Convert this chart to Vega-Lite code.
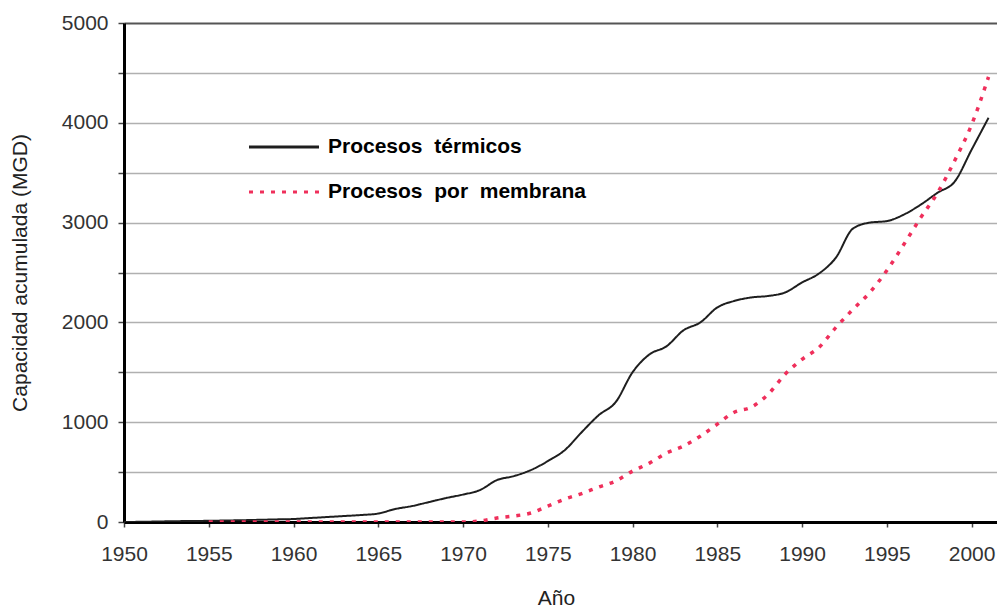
{
  "$schema": "https://vega.github.io/schema/vega-lite/v6.json",
  "width": 873,
  "height": 499,
  "autosize": {"type": "none"},
  "padding": {"left": 124, "top": 23, "right": 0, "bottom": 90},
  "background": "white",
  "config": {"view": {"stroke": null}, "font": "Liberation Sans"},
  "datasets": {
    "termicos": [
      {"anio":1950,"v":0},{"anio":1951,"v":2},{"anio":1952,"v":5},{"anio":1953,"v":8},{"anio":1954,"v":10},
      {"anio":1955,"v":12},{"anio":1956,"v":15},{"anio":1957,"v":18},{"anio":1958,"v":22},{"anio":1959,"v":26},
      {"anio":1960,"v":30},{"anio":1961,"v":40},{"anio":1962,"v":50},{"anio":1963,"v":60},{"anio":1964,"v":70},
      {"anio":1965,"v":85},{"anio":1966,"v":130},{"anio":1967,"v":160},{"anio":1968,"v":200},{"anio":1969,"v":240},
      {"anio":1970,"v":275},{"anio":1971,"v":320},{"anio":1972,"v":420},{"anio":1973,"v":460},{"anio":1974,"v":520},
      {"anio":1975,"v":610},{"anio":1976,"v":720},{"anio":1977,"v":900},{"anio":1978,"v":1070},{"anio":1979,"v":1200},
      {"anio":1980,"v":1500},{"anio":1981,"v":1680},{"anio":1982,"v":1760},{"anio":1983,"v":1920},{"anio":1984,"v":2000},
      {"anio":1985,"v":2150},{"anio":1986,"v":2215},{"anio":1987,"v":2250},{"anio":1988,"v":2265},{"anio":1989,"v":2300},
      {"anio":1990,"v":2400},{"anio":1991,"v":2490},{"anio":1992,"v":2650},{"anio":1993,"v":2940},{"anio":1994,"v":3000},
      {"anio":1995,"v":3015},{"anio":1996,"v":3080},{"anio":1997,"v":3180},{"anio":1998,"v":3300},{"anio":1999,"v":3410},
      {"anio":2000,"v":3730},{"anio":2001,"v":4050}
    ],
    "membrana": [
      {"anio":1955,"v":0},{"anio":1956,"v":0},{"anio":1957,"v":0},{"anio":1958,"v":0},{"anio":1959,"v":0},
      {"anio":1960,"v":0},{"anio":1961,"v":0},{"anio":1962,"v":0},{"anio":1963,"v":0},{"anio":1964,"v":0},
      {"anio":1965,"v":0},{"anio":1966,"v":0},{"anio":1967,"v":0},{"anio":1968,"v":0},{"anio":1969,"v":0},
      {"anio":1970,"v":0},{"anio":1971,"v":10},{"anio":1972,"v":40},{"anio":1973,"v":60},{"anio":1974,"v":90},
      {"anio":1975,"v":160},{"anio":1976,"v":230},{"anio":1977,"v":285},{"anio":1978,"v":350},{"anio":1979,"v":410},
      {"anio":1980,"v":510},{"anio":1981,"v":590},{"anio":1982,"v":690},{"anio":1983,"v":760},{"anio":1984,"v":860},
      {"anio":1985,"v":980},{"anio":1986,"v":1100},{"anio":1987,"v":1150},{"anio":1988,"v":1280},{"anio":1989,"v":1480},
      {"anio":1990,"v":1630},{"anio":1991,"v":1750},{"anio":1992,"v":1950},{"anio":1993,"v":2130},{"anio":1994,"v":2300},
      {"anio":1995,"v":2520},{"anio":1996,"v":2780},{"anio":1997,"v":3050},{"anio":1998,"v":3300},{"anio":1999,"v":3620},
      {"anio":2000,"v":3980},{"anio":2001,"v":4460}
    ]
  },
  "layer": [
    {
      "data": {"name": "termicos"},
      "transform": [{"calculate": "'Procesos térmicos'", "as": "serie"}],
      "mark": {"type": "line", "clip": true, "strokeWidth": 2, "interpolate": "monotone"},
      "encoding": {
        "x": {"field": "anio", "type": "quantitative"},
        "y": {"field": "v", "type": "quantitative"},
        "color": {"field": "serie", "type": "nominal"},
        "strokeDash": {"field": "serie", "type": "nominal"}
      }
    },
    {
      "data": {"name": "membrana"},
      "transform": [{"calculate": "'Procesos por membrana'", "as": "serie"}],
      "mark": {"type": "line", "clip": true, "strokeWidth": 3.5, "interpolate": "monotone"},
      "encoding": {
        "x": {"field": "anio", "type": "quantitative"},
        "y": {"field": "v", "type": "quantitative"},
        "color": {"field": "serie", "type": "nominal"},
        "strokeDash": {"field": "serie", "type": "nominal"}
      }
    }
  ],
  "encoding": {
    "x": {
      "field": "anio", "type": "quantitative",
      "scale": {"domain": [1950, 2001.5], "nice": false, "zero": false},
      "axis": {
        "title": "Año",
        "values": [1950,1955,1960,1965,1970,1975,1980,1985,1990,1995,2000],
        "format": "d",
        "grid": false,
        "domainColor": "#000000", "domainWidth": 3,
        "tickColor": "#444444", "tickSize": 5, "tickWidth": 1.5,
        "labelFont": "Liberation Sans", "labelFontSize": 21, "labelColor": "#333333",
        "labelPadding": 16, "labelFlush": false, "labelOverlap": false,
        "titleFont": "Liberation Sans", "titleFontSize": 21, "titleFontWeight": "normal", "titleColor": "#222222",
        "titleX": 432, "titleY": 76, "titleBaseline": "middle", "titleAlign": "center"
      }
    },
    "y": {
      "field": "v", "type": "quantitative",
      "scale": {"domain": [0, 5000], "nice": false},
      "axis": {
        "title": "Capacidad acumulada (MGD)",
        "values": [0,500,1000,1500,2000,2500,3000,3500,4000,4500,5000],
        "labelExpr": "datum.value % 1000 === 0 ? format(datum.value, 'd') : ''",
        "grid": true,
        "gridColor": {"condition": {"test": "datum.value === 5000", "value": "#555555"}, "value": "#b0b0b0"},
        "gridWidth": {"condition": {"test": "datum.value === 5000", "value": 2}, "value": 1.5},
        "domainColor": "#000000", "domainWidth": 3,
        "tickColor": "#444444", "tickSize": 6, "tickWidth": 1.5,
        "labelFont": "Liberation Sans", "labelFontSize": 21, "labelColor": "#333333",
        "labelPadding": 10, "labelOverlap": false,
        "titleFont": "Liberation Sans", "titleFontSize": 21, "titleFontWeight": "normal", "titleColor": "#222222",
        "titleX": -104, "titleY": 249.5, "titleBaseline": "middle", "titleAlign": "center", "titleAngle": -90
      }
    },
    "color": {
      "field": "serie", "type": "nominal",
      "scale": {"domain": ["Procesos térmicos", "Procesos por membrana"], "range": ["#1e1e1e", "#ef2f5b"]},
      "legend": {
        "title": null, "orient": "none", "legendX": 146, "legendY": 110, "padding": 0,
        "symbolType": "M-2.8,0H2.8", "symbolSize": 625, "symbolStrokeWidth": 3,
        "labelExpr": "replace(datum.label, regexp(' ', 'g'), '\u00a0 ')",
        "labelFont": "Liberation Sans", "labelFontSize": 21, "labelFontWeight": "bold", "labelColor": "#000000",
        "labelOffset": 30, "rowPadding": 21, "labelLimit": 400
      }
    },
    "strokeDash": {
      "field": "serie", "type": "nominal",
      "scale": {"domain": ["Procesos térmicos", "Procesos por membrana"], "range": [[1, 0], [4, 7]]},
      "legend": {
        "title": null, "orient": "none", "legendX": 146, "legendY": 110, "padding": 0,
        "symbolType": "M-2.8,0H2.8", "symbolSize": 625, "symbolStrokeWidth": 3,
        "labelExpr": "replace(datum.label, regexp(' ', 'g'), '\u00a0 ')",
        "labelFont": "Liberation Sans", "labelFontSize": 21, "labelFontWeight": "bold", "labelColor": "#000000",
        "labelOffset": 30, "rowPadding": 21, "labelLimit": 400
      }
    }
  }
}
